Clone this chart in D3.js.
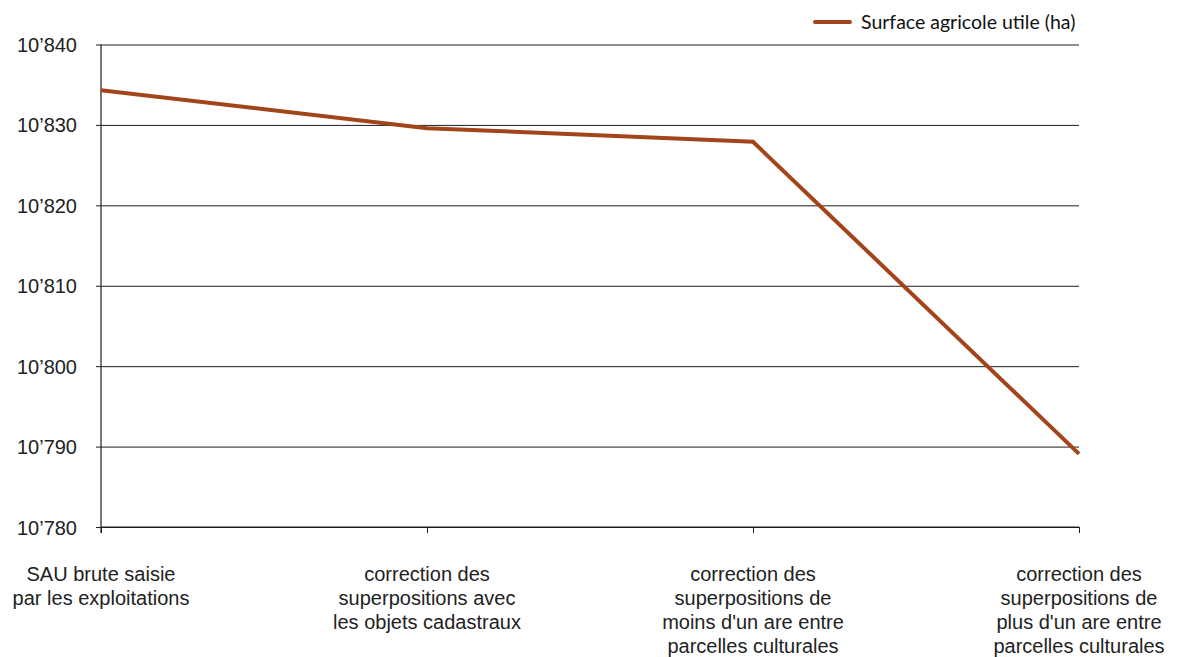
<!DOCTYPE html>
<html>
<head>
<meta charset="utf-8">
<script src="https://cdn.jsdelivr.net/npm/d3@7"></script>
<style>
  html, body { margin: 0; padding: 0; background: #fff; }
  svg { display: block; }
</style>
</head>
<body>
<svg id="chart" width="1182" height="657"></svg>
<script>
// Surface agricole utile after each correction step (ha)
const categories = [
  ["SAU brute saisie", "par les exploitations"],
  ["correction des", "superpositions avec", "les objets cadastraux"],
  ["correction des", "superpositions de", "moins d'un are entre", "parcelles culturales"],
  ["correction des", "superpositions de", "plus d'un are entre", "parcelles culturales"]
];
const values = [10834.3, 10829.6, 10827.9, 10789.1];
const yTicks = [10780, 10790, 10800, 10810, 10820, 10830, 10840];
const seriesName = "Surface agricole utile (ha)";

const W = 1182, H = 657;
const margin = { top: 44.5, right: 103, bottom: 130, left: 101 };
const lineColor = "#a3451b";

const svg = d3.select("#chart");
const keys = categories.map((c, i) => i);

const x = d3.scalePoint()
  .domain(keys)
  .range([margin.left, W - margin.right]);

const y = d3.scaleLinear()
  .domain([10780, 10840])
  .range([H - margin.bottom, margin.top]);

const fmt = v => {
  const s = String(v);
  return s.slice(0, s.length - 3) + "\u2019" + s.slice(-3);
};

// horizontal gridlines + y labels
const yAxis = d3.axisLeft(y)
  .tickValues(yTicks)
  .tickFormat(fmt)
  .tickSize(-(W - margin.right - margin.left) - 5)
  .tickPadding(24);

const gy = svg.append("g")
  .attr("transform", `translate(${margin.left},0)`)
  .call(yAxis);
gy.select(".domain").remove();
gy.selectAll(".tick line")
  .attr("x1", -5)
  .attr("x2", W - margin.right - margin.left)
  .attr("stroke", "#1e1e1e")
  .attr("stroke-width", 1);
gy.selectAll(".tick text")
  .attr("font-family", "'Liberation Sans', Arial, sans-serif")
  .attr("font-size", 20)
  .attr("fill", "#222")
  .attr("dy", "0.35em");

// vertical axis line
svg.append("line")
  .attr("x1", margin.left).attr("x2", margin.left)
  .attr("y1", y(10840)).attr("y2", y(10780) + 6)
  .attr("stroke", "#1e1e1e").attr("stroke-width", 1.2);

// bottom axis with category ticks
const xAxis = d3.axisBottom(x).tickSize(6).tickFormat(() => "");
const gx = svg.append("g")
  .attr("transform", `translate(0,${y(10780)})`)
  .call(xAxis);
gx.select(".domain")
  .attr("stroke", "#1e1e1e")
  .attr("d", `M${margin.left},0H${W - margin.right}`);
gx.selectAll(".tick line").attr("stroke", "#1e1e1e");

// category labels, one tspan per line
const labels = svg.append("g")
  .attr("font-family", "'Liberation Sans', Arial, sans-serif")
  .attr("font-size", 20)
  .attr("fill", "#222")
  .attr("text-anchor", "middle");

labels.selectAll("text")
  .data(categories)
  .join("text")
  .attr("x", (d, i) => x(i))
  .attr("y", 581)
  .selectAll("tspan")
  .data(d => d)
  .join("tspan")
  .attr("x", function () { return d3.select(this.parentNode).attr("x"); })
  .attr("dy", (d, i) => i === 0 ? 0 : 24)
  .text(d => d);

// data line
const line = d3.line()
  .x((d, i) => x(i))
  .y(d => y(d));

svg.append("path")
  .datum(values)
  .attr("d", line)
  .attr("fill", "none")
  .attr("stroke", lineColor)
  .attr("stroke-width", 4)
  .attr("stroke-linejoin", "miter")
  .attr("stroke-linecap", "butt");

// legend
const lg = svg.append("g").attr("transform", "translate(815,22)");
lg.append("line")
  .attr("x1", 0).attr("x2", 35)
  .attr("stroke", lineColor)
  .attr("stroke-width", 4)
  .attr("stroke-linecap", "round");
lg.append("text")
  .attr("x", 46)
  .attr("y", 0)
  .attr("dy", "0.35em")
  .attr("font-family", "Lato, 'Open Sans', sans-serif")
  .attr("font-size", 19.5)
  .attr("fill", "#111")
  .text(seriesName);
</script>
</body>
</html>
